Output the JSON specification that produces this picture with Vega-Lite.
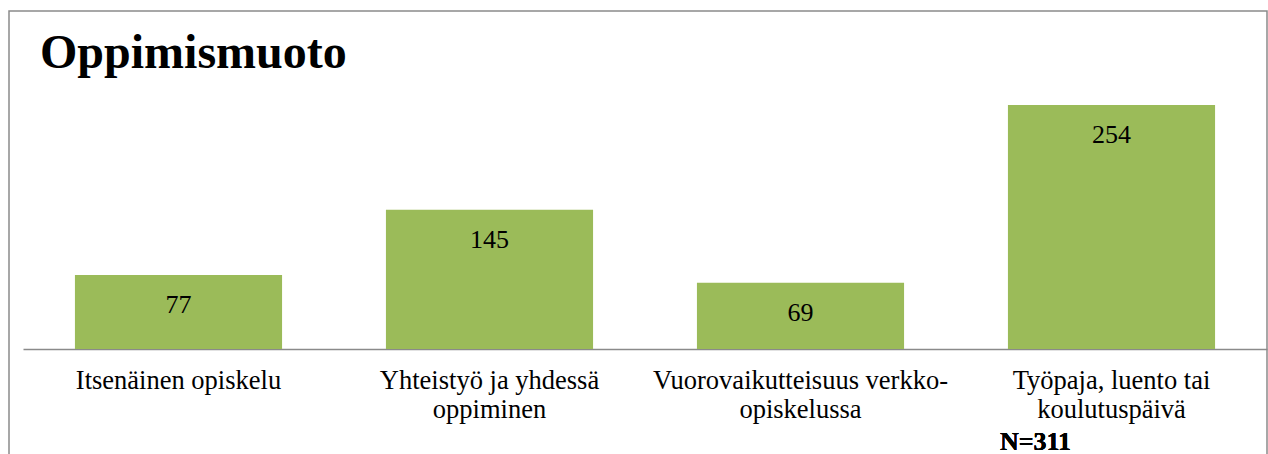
{
  "$schema": "https://vega.github.io/schema/vega-lite/v6.json",
  "width": 1258,
  "height": 470,
  "autosize": {"type": "none"},
  "padding": {"left": 9, "top": 11, "right": 1, "bottom": 0},
  "background": "white",
  "config": {
    "view": {"stroke": "#8a8a8a", "strokeWidth": 1.5},
    "font": "Liberation Serif"
  },
  "title": {
    "text": "Oppimismuoto",
    "anchor": "start",
    "frame": "group",
    "font": "Liberation Serif",
    "fontSize": 48,
    "fontWeight": "bold",
    "color": "black",
    "offset": 0,
    "baseline": "alphabetic",
    "dx": 31,
    "dy": 105
  },
  "data": {
    "values": [
      {"kategoria": "Itsenäinen opiskelu", "lkm": 77},
      {"kategoria": "Yhteistyö ja yhdessä oppiminen", "lkm": 145},
      {"kategoria": "Vuorovaikutteisuus verkko-opiskelussa", "lkm": 69},
      {"kategoria": "Työpaja, luento tai koulutuspäivä", "lkm": 254}
    ]
  },
  "layer": [
    {
      "mark": {"type": "bar", "color": "#9BBB59"},
      "encoding": {
        "x": {
          "field": "kategoria",
          "type": "nominal",
          "sort": null,
          "scale": {"range": [14, 1258], "paddingInner": 0.334, "paddingOuter": 0.167},
          "axis": {
            "orient": "bottom",
            "offset": -132,
            "title": null,
            "domain": true,
            "domainColor": "#8a8a8a",
            "domainWidth": 1.5,
            "ticks": false,
            "labelPadding": 18,
            "labelFont": "Liberation Serif",
            "labelFontSize": 26.5,
            "labelColor": "black",
            "labelAngle": 0,
            "labelLimit": 0,
            "labelLineHeight": 29,
            "labelBaseline": "top",
            "labelExpr": "datum.label == 'Yhteistyö ja yhdessä oppiminen' ? ['Yhteistyö ja yhdessä', 'oppiminen'] : datum.label == 'Vuorovaikutteisuus verkko-opiskelussa' ? ['Vuorovaikutteisuus verkko-', 'opiskelussa'] : datum.label == 'Työpaja, luento tai koulutuspäivä' ? ['Työpaja, luento tai', 'koulutuspäivä'] : datum.label"
          }
        },
        "y": {
          "field": "lkm",
          "type": "quantitative",
          "scale": {"domain": [0, 300], "range": [338, 49.8]},
          "axis": null
        }
      }
    },
    {
      "mark": {"type": "text", "baseline": "alphabetic", "dy": 38, "fontSize": 26, "font": "Liberation Serif", "color": "black"},
      "encoding": {
        "x": {"field": "kategoria", "type": "nominal", "sort": null},
        "y": {"field": "lkm", "type": "quantitative"},
        "text": {"field": "lkm", "type": "quantitative"}
      }
    },
    {
      "mark": {"type": "text", "text": "N=311", "baseline": "alphabetic", "align": "center", "dx": -76, "dy": 101, "fontSize": 26, "fontWeight": "bold", "font": "Liberation Serif", "color": "black"},
      "encoding": {
        "x": {"datum": "Työpaja, luento tai koulutuspäivä", "type": "nominal"},
        "y": {"datum": 0, "type": "quantitative"}
      }
    }
  ]
}
